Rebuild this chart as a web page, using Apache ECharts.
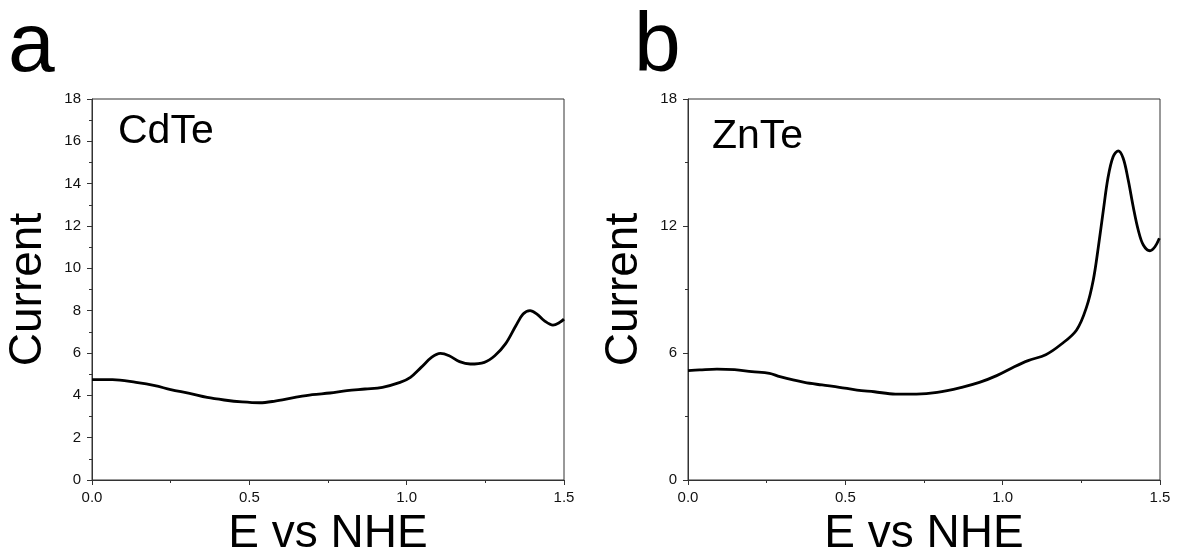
<!DOCTYPE html>
<html>
<head>
<meta charset="utf-8">
<script src="https://cdn.jsdelivr.net/npm/echarts@6/dist/echarts.min.js"></script>
<style>
  html, body { margin: 0; padding: 0; background: #fff; }
  #chart { width: 1177px; height: 552px; }
</style>
</head>
<body>
<div id="chart"></div>
<script>
// Panel labels and sample names
const panelLetters = ['a', 'b'];
const sampleNames = ['CdTe', 'ZnTe'];
const xAxisTitle = 'E vs NHE';
const yAxisTitle = 'Current';

// CdTe voltammogram: potential (V vs NHE) and current
const energyCdTe = [0.00, 0.065, 0.14, 0.20, 0.25, 0.31, 0.366, 0.42, 0.477, 0.533, 0.578, 0.645, 0.70, 0.756, 0.81, 0.868, 0.923, 0.979, 1.012, 1.046, 1.08, 1.107, 1.135, 1.168, 1.202, 1.247, 1.28, 1.314, 1.347, 1.37, 1.392, 1.414, 1.437, 1.465, 1.487, 1.50];
const currentCdTe = [4.74, 4.74, 4.61, 4.46, 4.27, 4.09, 3.90, 3.78, 3.69, 3.65, 3.72, 3.90, 4.03, 4.11, 4.22, 4.30, 4.38, 4.61, 4.85, 5.32, 5.80, 5.98, 5.87, 5.59, 5.48, 5.56, 5.87, 6.43, 7.29, 7.84, 8.00, 7.84, 7.53, 7.32, 7.45, 7.60];

// ZnTe voltammogram: potential (V vs NHE) and current
const energyZnTe = [0.00, 0.037, 0.092, 0.148, 0.203, 0.259, 0.292, 0.37, 0.426, 0.481, 0.537, 0.592, 0.659, 0.726, 0.792, 0.87, 0.926, 0.981, 1.037, 1.081, 1.137, 1.185, 1.235, 1.267, 1.288, 1.304, 1.32, 1.335, 1.351, 1.367, 1.383, 1.399, 1.415, 1.431, 1.447, 1.468, 1.484, 1.498];
const currentZnTe = [5.17, 5.20, 5.24, 5.21, 5.12, 5.04, 4.88, 4.61, 4.49, 4.38, 4.25, 4.17, 4.06, 4.06, 4.14, 4.38, 4.61, 4.93, 5.35, 5.64, 5.92, 6.40, 7.09, 8.19, 9.45, 11.0, 12.75, 14.3, 15.27, 15.55, 15.2, 14.17, 12.9, 11.8, 11.1, 10.83, 11.02, 11.42];

const xTickLabels = ['0.0', '0.5', '1.0', '1.5'];

const FONT = "'Liberation Sans', Arial, sans-serif";
const AXIS_COLOR = '#333';

function pairs(xs, ys) { return xs.map((x, i) => [x, ys[i]]); }

function xAxis(gridIndex) {
  return {
    type: 'value', gridIndex, min: 0, max: 1.5, interval: 0.5,
    name: xAxisTitle, nameLocation: 'middle', nameGap: 31,
    nameTextStyle: { fontFamily: FONT, fontSize: 46, color: '#000' },
    axisLine: { show: true, lineStyle: { color: AXIS_COLOR, width: 1 } },
    axisTick: { show: true, inside: false, length: 5, lineStyle: { color: AXIS_COLOR } },
    minorTick: { show: true, splitNumber: 2, length: 3, lineStyle: { color: AXIS_COLOR } },
    axisLabel: { fontFamily: FONT, fontSize: 15, color: '#111', margin: 10,
      formatter: v => xTickLabels[Math.round(v / 0.5)] },
    splitLine: { show: false }
  };
}

function yAxis(gridIndex, interval) {
  return {
    type: 'value', gridIndex, min: 0, max: 18, interval,
    name: yAxisTitle, nameLocation: 'middle', nameGap: 41, nameRotate: 90,
    nameTextStyle: { fontFamily: FONT, fontSize: 46, color: '#000' },
    axisLine: { show: true, lineStyle: { color: AXIS_COLOR, width: 1 } },
    axisTick: { show: true, inside: false, length: 5, lineStyle: { color: AXIS_COLOR } },
    minorTick: { show: true, splitNumber: 2, length: 3, lineStyle: { color: AXIS_COLOR } },
    axisLabel: { fontFamily: FONT, fontSize: 15, color: '#111', margin: 11 },
    splitLine: { show: false }
  };
}

const chart = echarts.init(document.getElementById('chart'), null, { renderer: 'canvas' });

const gridBase = { top: 99, width: 472, height: 381, show: true, borderColor: AXIS_COLOR,
  borderWidth: 1, backgroundColor: 'transparent', outerBoundsMode: 'none', containLabel: false };

chart.setOption({
  animation: false,
  backgroundColor: '#fff',
  grid: [
    Object.assign({ left: 92 }, gridBase),
    Object.assign({ left: 688 }, gridBase)
  ],
  xAxis: [xAxis(0), xAxis(1)],
  yAxis: [yAxis(0, 2), yAxis(1, 6)],
  graphic: [
    { type: 'text', left: 8, top: 6, style: { text: panelLetters[0], font: '84px ' + FONT, fill: '#000' } },
    { type: 'text', left: 634, top: 6, style: { text: panelLetters[1], font: '84px ' + FONT, fill: '#000' } },
    { type: 'text', left: 118, top: 111, style: { text: sampleNames[0], font: '41px ' + FONT, fill: '#000' } },
    { type: 'text', left: 712, top: 116, style: { text: sampleNames[1], font: '41px ' + FONT, fill: '#000' } }
  ],
  series: [
    { type: 'line', xAxisIndex: 0, yAxisIndex: 0, data: pairs(energyCdTe, currentCdTe),
      showSymbol: false, smooth: 0.35, lineStyle: { color: '#000', width: 2.8 } },
    { type: 'line', xAxisIndex: 1, yAxisIndex: 1, data: pairs(energyZnTe, currentZnTe),
      showSymbol: false, smooth: 0.35, lineStyle: { color: '#000', width: 2.8 } }
  ]
});
</script>
</body>
</html>
